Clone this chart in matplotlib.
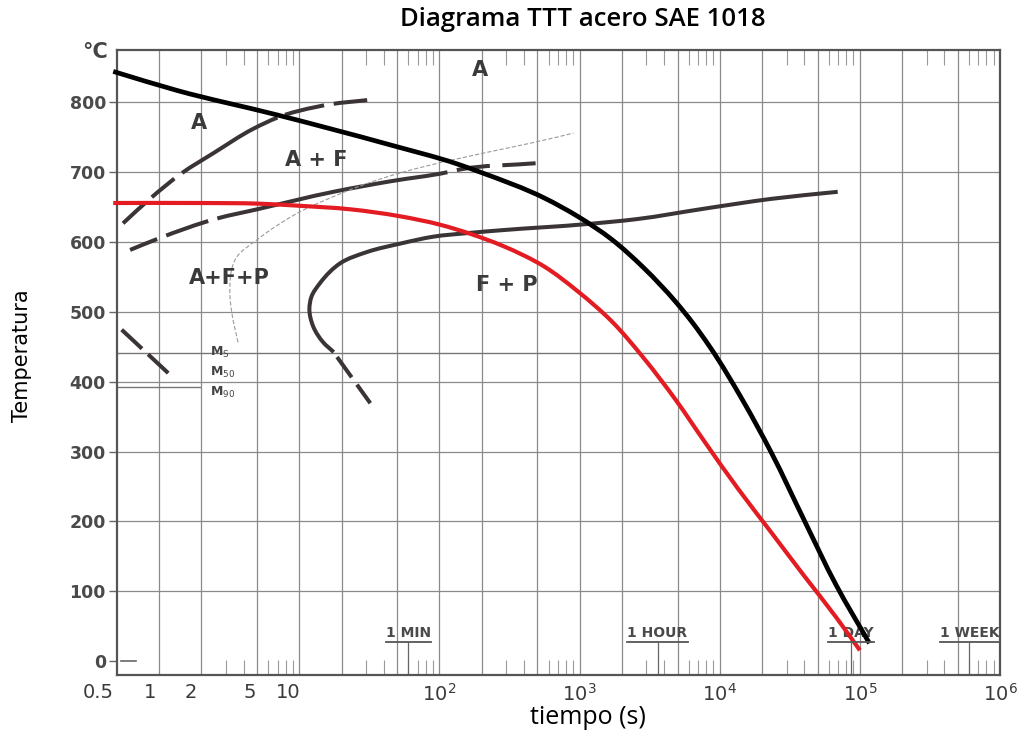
import matplotlib
matplotlib.use('Agg')
import matplotlib.pyplot as plt
from matplotlib.lines import Line2D
from matplotlib.path import Path
from matplotlib.patches import PathPatch
from matplotlib.ticker import FixedLocator, NullFormatter
from matplotlib.transforms import ScaledTranslation
import numpy as np

plt.rcParams['lines.scale_dashes'] = False

# ---------------- data (time in s, temperature in °C) ----------------
# overlaid cooling curves
black_t = [0.47, 1.33, 6.9, 44.6, 133, 196, 562, 968, 1695, 2880, 4840, 6400, 8470,
           14600, 23400, 39800, 67800, 117000]
black_T = [843, 816, 781, 738, 711, 699, 662, 636, 603, 562, 514, 484, 450,
           373, 298, 203, 109, 26]

red_t = [0.47, 1.96, 5.25, 10.1, 23.1, 52.5, 101, 166, 281, 562, 968, 1695, 2880, 4840,
         7800, 13600, 23400, 39800, 67800, 100000]
red_T = [655, 655, 654, 651, 646, 636, 624, 611, 594, 564, 529, 486, 433, 374,
         314, 246, 184, 123, 63, 16]

# A / A+F boundary: dashed [0-2], solid [2-5], dashed [6-9]
a_t = [0.552, 0.859, 1.458, 2.428, 4.69, 6.98, 7.9, 10.1, 16.6, 30.5]
a_T = [626, 661, 698, 726, 761, 777, 781, 787, 796, 802]

# ferrite start: dashed [0-2], solid [2-6], dashed [7-8]
f_t = [0.62, 0.98, 2.6, 5.0, 17.5, 44.6, 114, 133, 500]
f_T = [588, 604, 633, 646, 671, 686, 699, 702, 712]

# thin pearlite start line
p_t = [3.65, 3.3, 3.2, 3.58, 4.95, 9.6, 20.6, 904]
p_T = [456, 498, 521, 578, 602, 640, 670, 755]

# F+P C-curve (solid) and its dashed lower tail
c_t = [17.6, 14.8, 12.6, 11.8, 12.2, 14.1, 19.6, 30.4, 52.5, 91, 158, 272,
       1140, 2560, 7800, 23500, 69500]
c_T = [442, 456, 478, 504, 521, 541, 569, 585, 597, 607, 612, 616,
       625, 632, 647, 661, 671]
c2_t = [18.6, 32.1]
c2_T = [435, 369]

# martensite dashed line
m_t = [0.54, 1.16]
m_T = [474, 412]

ms_T = 441
m90_T = 392
m90_t = [0.5, 1.96]

y_ticks = [0, 100, 200, 300, 400, 500, 600, 700, 800]
x_ticks = [0.5, 1, 2, 5, 10, 1e2, 1e3, 1e4, 1e5, 1e6]
x_labels = ['0.5', '1', '2', '5', '10', r'$10^2$', r'$10^3$', r'$10^4$', r'$10^5$', r'$10^6$']
grid_t = [1, 2, 5, 10, 20, 50, 100, 200, 500, 1e3, 2e3, 5e3, 1e4, 2e4, 5e4, 1e5, 2e5, 5e5]
grid_T = [100, 200, 300, 400, 500, 600, 700, 800]

time_marks = [60, 3600, 86400, 604800]
time_labels = ['1 MIN', '1 HOUR', '1 DAY', '1 WEEK']

regions = [('A', 1.93, 769), ('A', 193, 845), ('A + F', 13.2, 716),
           ('A+F+P', 3.15, 548), ('F + P', 301, 538)]
m_labels = [(r'M$_\mathrm{S}$', 2.31, 442), (r'M$_{50}$', 2.31, 413), (r'M$_{90}$', 2.31, 384)]


# ---------------- helpers: smooth curve through the read points ----------------
SX, SY = 140.0, 0.7   # approx. pixels per decade / per °C, used only to balance the spline


def bezier_segments(t, T):
    P = np.column_stack([np.log10(t) * SX, -np.asarray(T, float) * SY])
    n = len(P)
    d = np.linalg.norm(np.diff(P, axis=0), axis=1)
    u = np.diff(P, axis=0) / d[:, None]
    m = np.zeros_like(P)
    m[0], m[-1] = u[0], u[-1]
    for i in range(1, n - 1):
        m[i] = (u[i - 1] * d[i] + u[i] * d[i - 1]) / (d[i - 1] + d[i])
    segs = []
    for i in range(n - 1):
        c1 = P[i] + m[i] * d[i] / 3.0
        c2 = P[i + 1] - m[i + 1] * d[i] / 3.0
        segs.append((P[i], c1, c2, P[i + 1]))
    return segs


def part_path(segs, i0, i1):
    verts = [segs[i0][0]]
    codes = [Path.MOVETO]
    for s in segs[i0:i1]:
        verts += [s[1], s[2], s[3]]
        codes += [Path.CURVE4] * 3
    V = np.array(verts)
    V = np.column_stack([10 ** (V[:, 0] / SX), -V[:, 1] / SY])
    return Path(V, codes)


def draw(ax, segs, i0, i1, color, lw, dashes=None, z=3, clip=True):
    ls = '-' if dashes is None else (0, dashes)
    pp = PathPatch(part_path(segs, i0, i1), fill=False, edgecolor=color, lw=lw,
                   linestyle=ls, capstyle='butt', joinstyle='round', zorder=z)
    ax.add_patch(pp)
    pp.set_clip_on(clip)


# ---------------- figure ----------------
W, H = 1018, 732
fig = plt.figure(figsize=(W / 100, H / 100), dpi=100)
ax = fig.add_axes([117 / W, 1 - 675 / H, 883 / W, 625 / H])
ax.set_xscale('log')
ax.set_xlim(0.5, 1e6)
ax.set_ylim(-19.3, 873.6)

grid_c = '#8a8a8a'
for g in grid_t:
    ax.axvline(g, color=grid_c, lw=0.9, zorder=1)
for g in grid_T:
    ax.axhline(g, color=grid_c, lw=0.9, zorder=1)
ax.axhline(ms_T, color='#777777', lw=1.0, zorder=1)
ax.plot(m90_t, [m90_T, m90_T], color='#777777', lw=1.0, zorder=1)
ax.axhline(0, xmin=0.004, xmax=0.022, color='#666666', lw=1.2)

for s in ax.spines.values():
    s.set_color('#555555')
    s.set_linewidth(1.6)

ax.set_yticks(y_ticks)
ax.set_yticklabels([str(v) for v in y_ticks])
ax.xaxis.set_major_locator(FixedLocator(x_ticks))
ax.set_xticklabels(x_labels)
minors = [m * 10.0 ** k for k in range(0, 6) for m in (3, 4, 6, 7, 8, 9)]
ax.xaxis.set_minor_locator(FixedLocator(minors))
ax.xaxis.set_minor_formatter(NullFormatter())
ax.tick_params(axis='x', which='major', length=0, pad=6, labelsize=14, labelcolor='#3a3a3a')
ax.tick_params(axis='x', which='minor', direction='in', length=11, width=0.8,
               color='#999999', top=True, bottom=True)
ax.tick_params(axis='y', which='major', direction='out', length=6, width=1.0,
               color='#666666', pad=2, labelsize=12.5, labelcolor='#4a4a4a')
for lab in ax.get_yticklabels():
    lab.set_fontweight('bold')
shifts = [-19, -9, -11, -7, -11]
for lab, dx in zip(ax.get_xticklabels()[:5], shifts):
    lab.set_transform(lab.get_transform() + ScaledTranslation(dx / 100, 0, fig.dpi_scale_trans))

curve_c = '#3b3436'
lw_c = 2.9
a_s = bezier_segments(a_t, a_T)
draw(ax, a_s, 0, 2, curve_c, lw_c, (21, 7))
draw(ax, a_s, 2, 5, curve_c, lw_c)
draw(ax, a_s, 6, 9, curve_c, lw_c, (29, 7))

f_s = bezier_segments(f_t, f_T)
draw(ax, f_s, 0, 2, curve_c, lw_c, (21, 7, 32, 7))
draw(ax, f_s, 2, 6, curve_c, lw_c)
draw(ax, f_s, 7, 8, curve_c, lw_c, (24, 9))

p_s = bezier_segments(p_t, p_T)
draw(ax, p_s, 0, len(p_t) - 1, '#9a9a9a', 0.8, (3, 1.5))

c_s = bezier_segments(c_t, c_T)
draw(ax, c_s, 0, len(c_t) - 1, curve_c, lw_c)
ax.plot(c2_t, c2_T, color=curve_c, lw=lw_c, dashes=(18, 6.5), zorder=3)
ax.plot(m_t, m_T, color=curve_c, lw=lw_c, dashes=(20, 6), zorder=3)

b_s = bezier_segments(black_t, black_T)
draw(ax, b_s, 0, len(black_t) - 1, 'black', 3.4, z=5, clip=False)
r_s = bezier_segments(red_t, red_T)
draw(ax, r_s, 0, len(red_t) - 1, '#e31c23', 3.0, z=6, clip=False)

for txt, t, T in regions:
    ax.text(t, T, txt, fontsize=15, fontweight='bold', color='#3a3a3a',
            ha='center', va='center', zorder=4)
for txt, t, T in m_labels:
    ax.text(t, T, txt, fontsize=9, fontweight='bold', color='#444444',
            ha='left', va='center', zorder=4)

tl = []
for t, lab in zip(time_marks, time_labels):
    tl.append(ax.text(t, 41, lab, fontsize=10, fontweight='bold', color='#4a4a4a',
                      ha='center', va='center', zorder=4))
ax.vlines(time_marks, -19.3, 28, color='#666666', lw=0.9, zorder=2)

ax.text(-0.025, 871, '°C', transform=ax.get_yaxis_transform(), fontsize=15,
        fontweight='bold', color='#444444', ha='center', va='center', clip_on=False)

fig.text(583 / W, 1 - 19 / H, 'Diagrama TTT acero SAE 1018', fontsize=18.5,
         fontweight='semibold', family=['Open Sans', 'DejaVu Sans'], ha='center', va='center')
fig.text(588 / W, 1 - 717 / H, 'tiempo (s)', fontsize=18,
         family=['Open Sans', 'DejaVu Sans'], ha='center', va='center')
fig.text(22 / W, 1 - 356 / H, 'Temperatura', fontsize=15, rotation=90,
         family=['Liberation Sans Narrow', 'DejaVu Sans'], ha='center', va='center')

fig.canvas.draw()
inv = fig.transFigure.inverted()
for t in tl:
    bb = t.get_window_extent()
    (x0, y0), (x1, y1) = inv.transform([(bb.x0, bb.y0 - 2), (bb.x1, bb.y0 - 2)])
    fig.add_artist(Line2D([x0, x1], [y0, y1], color='#555555', lw=1.3))

fig.savefig('out.png', dpi=100, facecolor='white')
